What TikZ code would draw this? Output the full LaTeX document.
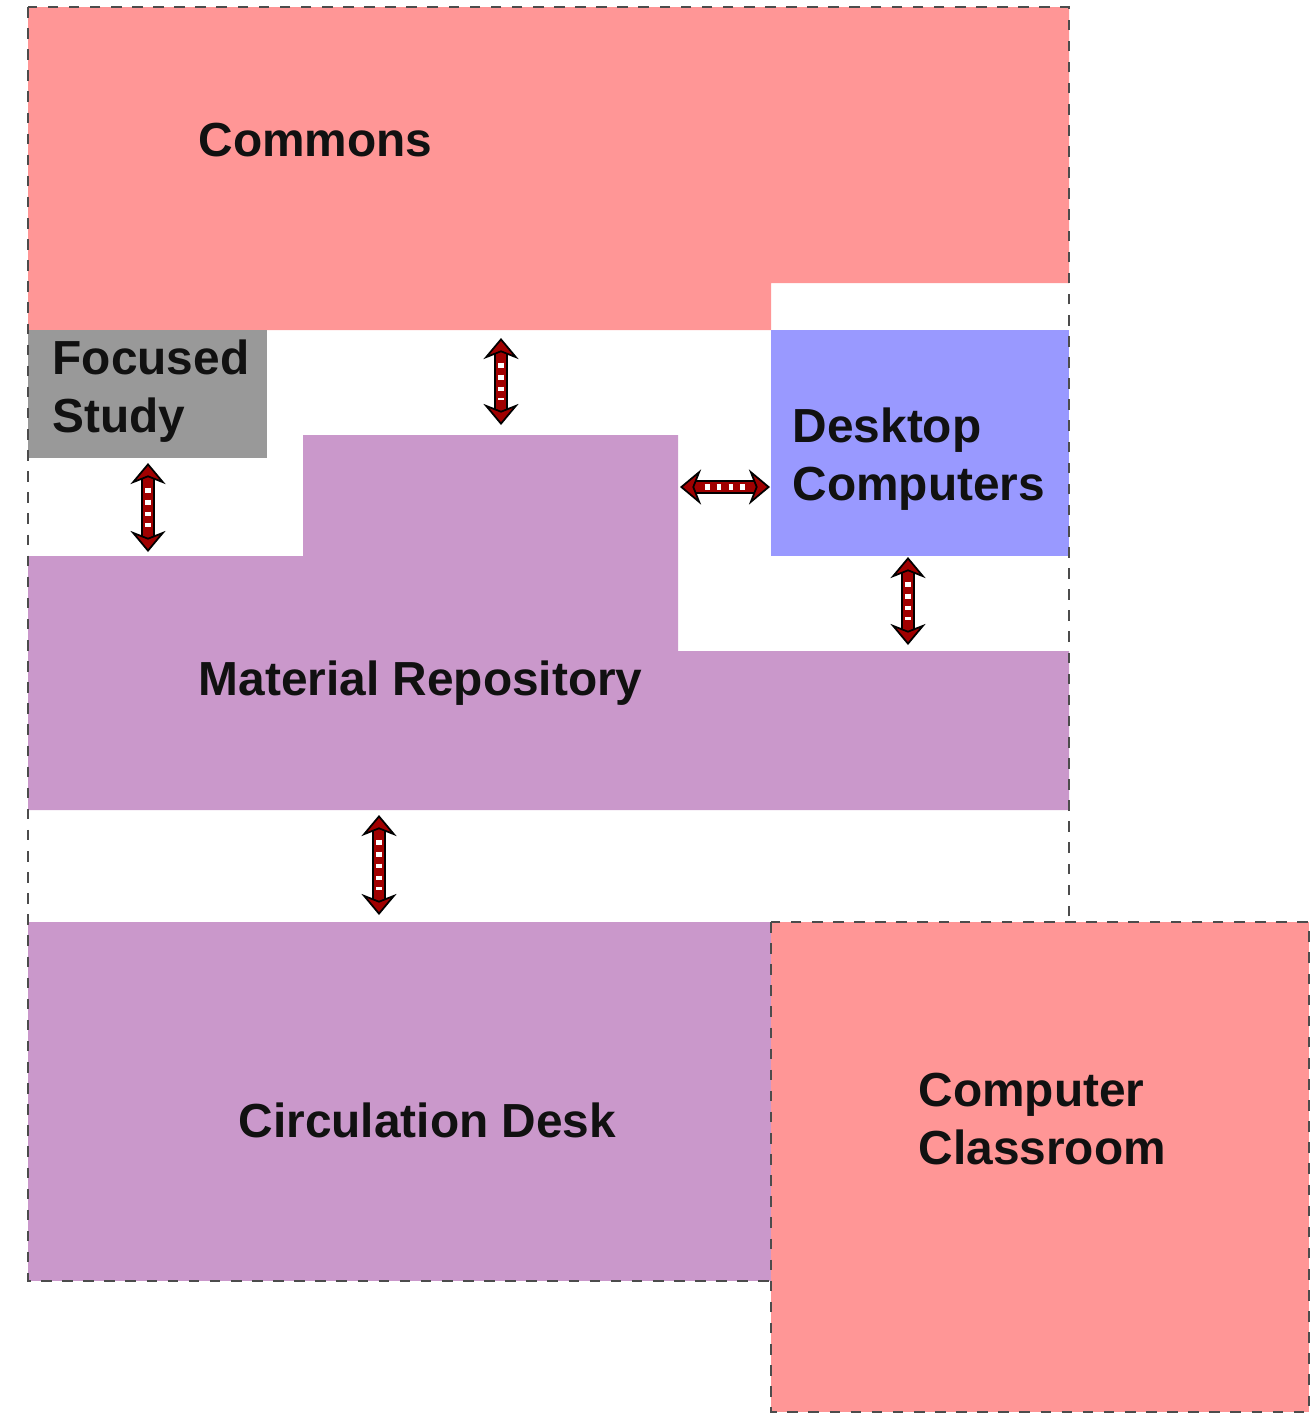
\documentclass[tikz,border=0pt]{standalone}
\usepackage{fontspec}
\setmainfont{Liberation Sans}
\usetikzlibrary{arrows.meta}
\definecolor{roompink}{HTML}{FF9696}
\definecolor{roomlilac}{HTML}{CA98CB}
\definecolor{roomgray}{HTML}{999999}
\definecolor{roomblue}{HTML}{9999FF}
\definecolor{arrowred}{HTML}{A00000}
\definecolor{labelink}{HTML}{111111}

\begin{document}
\begin{tikzpicture}[x=0.01cm,y=-0.01cm,
    border/.style={draw=black!70,dashed,line width=0.5pt},
    label/.style={font=\bfseries\fontsize{13.6}{16.5}\selectfont,text=labelink,inner sep=0pt,align=left,anchor=west},
    passage/.style={arrowred,line width=2.8pt,
      {Stealth[length=6pt,width=10pt,fill=arrowred,color=black,line width=0.5pt]}-{Stealth[length=6pt,width=10pt,fill=arrowred,color=black,line width=0.5pt]},
      preaction={draw=black,line width=3.8pt,-,shorten <=4pt,shorten >=4pt},
      postaction={draw=white,line width=1.8pt,-,dash pattern=on 1.4pt off 2pt,shorten <=7pt,shorten >=7pt}}]
    \useasboundingbox (0,0) rectangle (1316,1414);

    % rooms
    \fill[roompink]  (28,7) -| (1069,283) -| (771,330) -| cycle;
    \fill[roomgray]  (28,330) rectangle (267,458);
    \fill[roomblue]  (771,330) rectangle (1069,556);
    \fill[roomlilac] (28,556) -| (303,435) -| (678,651) -| (1069,810) -| cycle;
    \fill[roomlilac] (28,922) rectangle (771,1281);
    \draw[border] (28,7) rectangle (1069,1281);
    \draw[border,fill=roompink] (771,922) rectangle (1309,1412);

    \node[label] (commons)   at (198,140)  {Commons};
    \node[label] (focused)   at (52,391)   {Focused\\Study};
    \node[label] (desktop)   at (792,459)  {Desktop\\Computers};
    \node[label] (material)  at (198,683)  {Material Repository};
    \node[label] (circdesk)  at (238,1120) {Circulation Desk};
    \node[label] (classroom) at (918,1119) {Computer\\Classroom};

    \coordinate (c_top)  at (501,338);  \coordinate (m_top)  at (501,425);
    \coordinate (f_bot)  at (148,463);  \coordinate (m_left) at (148,552);
    \coordinate (m_east) at (680,487);  \coordinate (d_west) at (770,487);
    \coordinate (d_bot)  at (908,557);  \coordinate (m_right) at (908,645);
    \coordinate (m_bot)  at (379,815);  \coordinate (cd_top) at (379,915);

    \draw[passage] (c_top) -- (m_top);
    \draw[passage] (f_bot) -- (m_left);
    \draw[passage] (m_east) -- (d_west);
    \draw[passage] (d_bot) -- (m_right);
    \draw[passage] (m_bot) -- (cd_top);
\end{tikzpicture}
\end{document}
